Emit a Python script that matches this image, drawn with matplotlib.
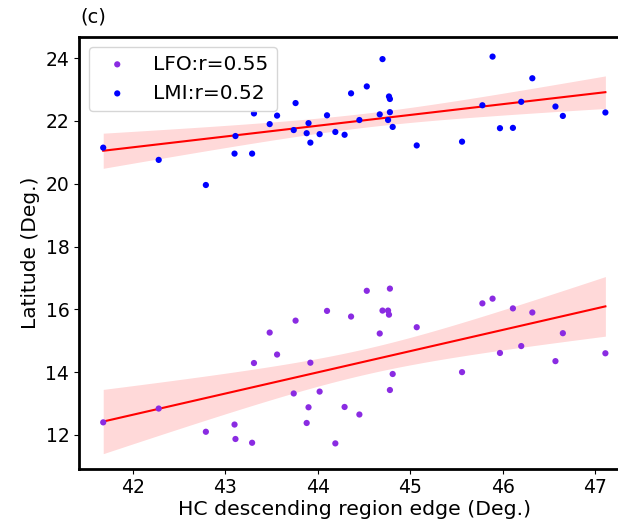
import numpy as np
import matplotlib
matplotlib.use("Agg")
import matplotlib.pyplot as plt

# HC descending region edge (shared by both series) and the two latitudes
hc_edge = [41.68, 42.28, 42.79, 43.10, 43.11, 43.29, 43.31, 43.48, 43.56, 43.74,
           43.76, 43.88, 43.90, 43.92, 44.02, 44.10, 44.19, 44.29, 44.36, 44.45,
           44.53, 44.67, 44.70, 44.76, 44.77, 44.78, 44.78, 44.81, 45.07, 45.56,
           45.78, 45.89, 45.97, 46.11, 46.20, 46.32, 46.57, 46.65, 47.11]
lmi_lat = [21.15, 20.76, 19.96, 20.96, 21.52, 20.96, 22.24, 21.90, 22.17, 21.71,
           22.57, 21.61, 21.93, 21.31, 21.58, 22.18, 21.65, 21.56, 22.88, 22.03,
           23.10, 22.21, 23.97, 22.03, 22.78, 22.70, 22.28, 21.81, 21.22, 21.34,
           22.50, 24.05, 21.77, 21.78, 22.61, 23.36, 22.46, 22.16, 22.27]
lfo_lat = [12.40, 12.84, 12.10, 12.33, 11.87, 11.75, 14.29, 15.26, 14.56, 13.32,
           15.64, 12.38, 12.88, 14.30, 13.38, 15.95, 11.73, 12.89, 15.77, 12.65,
           16.59, 15.23, 15.96, 15.96, 15.83, 16.66, 13.43, 13.94, 15.43, 14.00,
           16.19, 16.34, 14.61, 16.03, 14.83, 15.90, 14.35, 15.24, 14.60]
lfo_label = "LFO:r=0.55"
lmi_label = "LMI:r=0.52"


def fit_band(x, y, z=1.96):
    # least-squares line with a 95% confidence band for the mean
    x = np.asarray(x); y = np.asarray(y)
    n = len(x)
    b, a = np.polyfit(x, y, 1)
    xg = np.linspace(x.min(), x.max(), 100)
    yg = a + b * xg
    res = y - (a + b * x)
    s = np.sqrt(np.sum(res ** 2) / (n - 2))
    sxx = np.sum((x - x.mean()) ** 2)
    se = s * np.sqrt(1.0 / n + (xg - x.mean()) ** 2 / sxx)
    return xg, yg, yg - z * se, yg + z * se


fig = plt.figure(figsize=(6.18, 5.23), dpi=100)
# right edge of the frame runs off the canvas
ax = fig.add_axes([0.1278, 0.1042, 0.8916, 0.8260])

for lat, col, lab in [(lfo_lat, "blueviolet", lfo_label), (lmi_lat, "blue", lmi_label)]:
    ax.scatter(hc_edge, lat, s=20, color=col, edgecolor="none", label=lab, zorder=3)
    xg, yg, lo, hi = fit_band(hc_edge, lat)
    ax.fill_between(xg, lo, hi, color="red", alpha=0.15, linewidth=0, zorder=1)
    ax.plot(xg, yg, color="red", lw=1.5, zorder=2)

ax.set_xlim(41.418, 47.376)
ax.set_ylim(10.93, 24.69)
ax.set_xticks([42, 43, 44, 45, 46, 47])
ax.set_yticks([12, 14, 16, 18, 20, 22, 24])
ax.tick_params(labelsize=13.5)
ax.set_xlabel("HC descending region edge (Deg.)", fontsize=14.7, labelpad=2)
ax.set_ylabel("Latitude (Deg.)", fontsize=14.5)
ax.set_title("(c)", loc="left", fontsize=14, x=0.003, pad=10)
for sp in ax.spines.values():
    sp.set_linewidth(2)
ax.legend(loc="upper left", fontsize=14.5)

fig.savefig("out.png", dpi=100)
